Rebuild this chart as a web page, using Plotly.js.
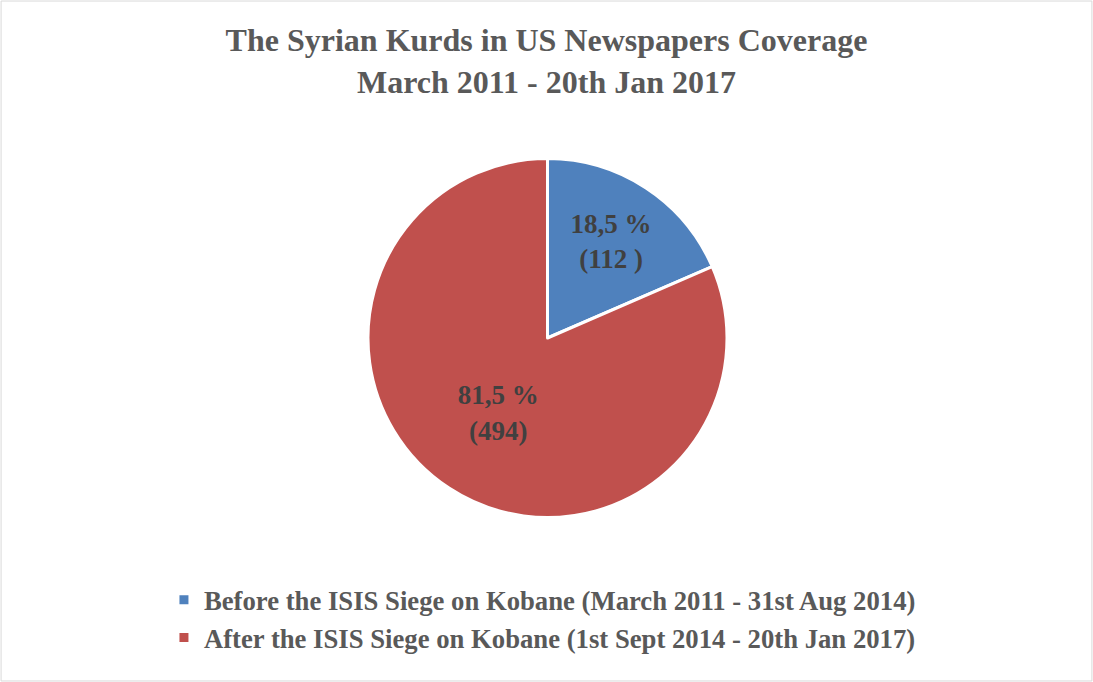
<!DOCTYPE html>
<html>
<head>
<meta charset="utf-8">
<script src="https://cdn.plot.ly/plotly-3.0.1.min.js"></script>
<style>html,body{margin:0;padding:0;background:#fff;}#chart{width:1093px;height:682px;}</style>
</head>
<body>
<div id="chart"></div>
<script>
const categories = [
  "Before the ISIS Siege on Kobane (March 2011 - 31st Aug 2014)",
  "After the ISIS Siege on Kobane (1st Sept 2014 - 20th Jan 2017)"
];
const counts = [112, 494];
const percentLabels = ["18,5 %", "81,5 %"];
const countLabels = ["(112 )", "(494)"];
const colors = ["#4F81BD", "#C0504D"];

const trace = {
  type: "pie",
  labels: categories,
  values: counts,
  text: percentLabels.map((p, i) => p + "<br>" + countLabels[i]),
  textinfo: "text",
  textposition: "inside",
  insidetextorientation: "horizontal",
  sort: false,
  direction: "clockwise",
  rotation: 0,
  marker: { colors: colors, line: { color: "#FFFFFF", width: 3 } },
  textfont: { family: "Liberation Serif, Times New Roman, serif", size: 27, color: "#404040", weight: "bold" },
  domain: { x: [368/1093, 727/1093], y: [(682-518)/682, (682-158)/682] },
  hoverinfo: "label+value+percent"
};

const layout = {
  width: 1093, height: 682,
  margin: { l: 0, r: 0, t: 0, b: 0 },
  paper_bgcolor: "#FFFFFF",
  title: {
    text: "<b>The Syrian Kurds in US Newspapers Coverage<br>March 2011 - 20th Jan 2017</b>",
    font: { family: "Liberation Serif, Times New Roman, serif", size: 32, color: "#595959" },
    x: 0.5, xanchor: "center", y: 1 - 51/682, yanchor: "middle"
  },
  showlegend: true,
  legend: {
    orientation: "v",
    x: 0.150, xanchor: "left", y: 1 - 576/682, yanchor: "top",
    font: { family: "Liberation Serif, Times New Roman, serif", size: 26.7, color: "#595959", weight: "bold" },
    bgcolor: "rgba(0,0,0,0)"
  },
  shapes: [{
    type: "rect", xref: "paper", yref: "paper",
    x0: 0.001, x1: 0.999, y0: 0.0015, y1: 0.9985,
    line: { color: "#D9D9D9", width: 1 }
  }]
};

Plotly.newPlot("chart", [trace], layout, { displayModeBar: false, staticPlot: true });
</script>
</body>
</html>
